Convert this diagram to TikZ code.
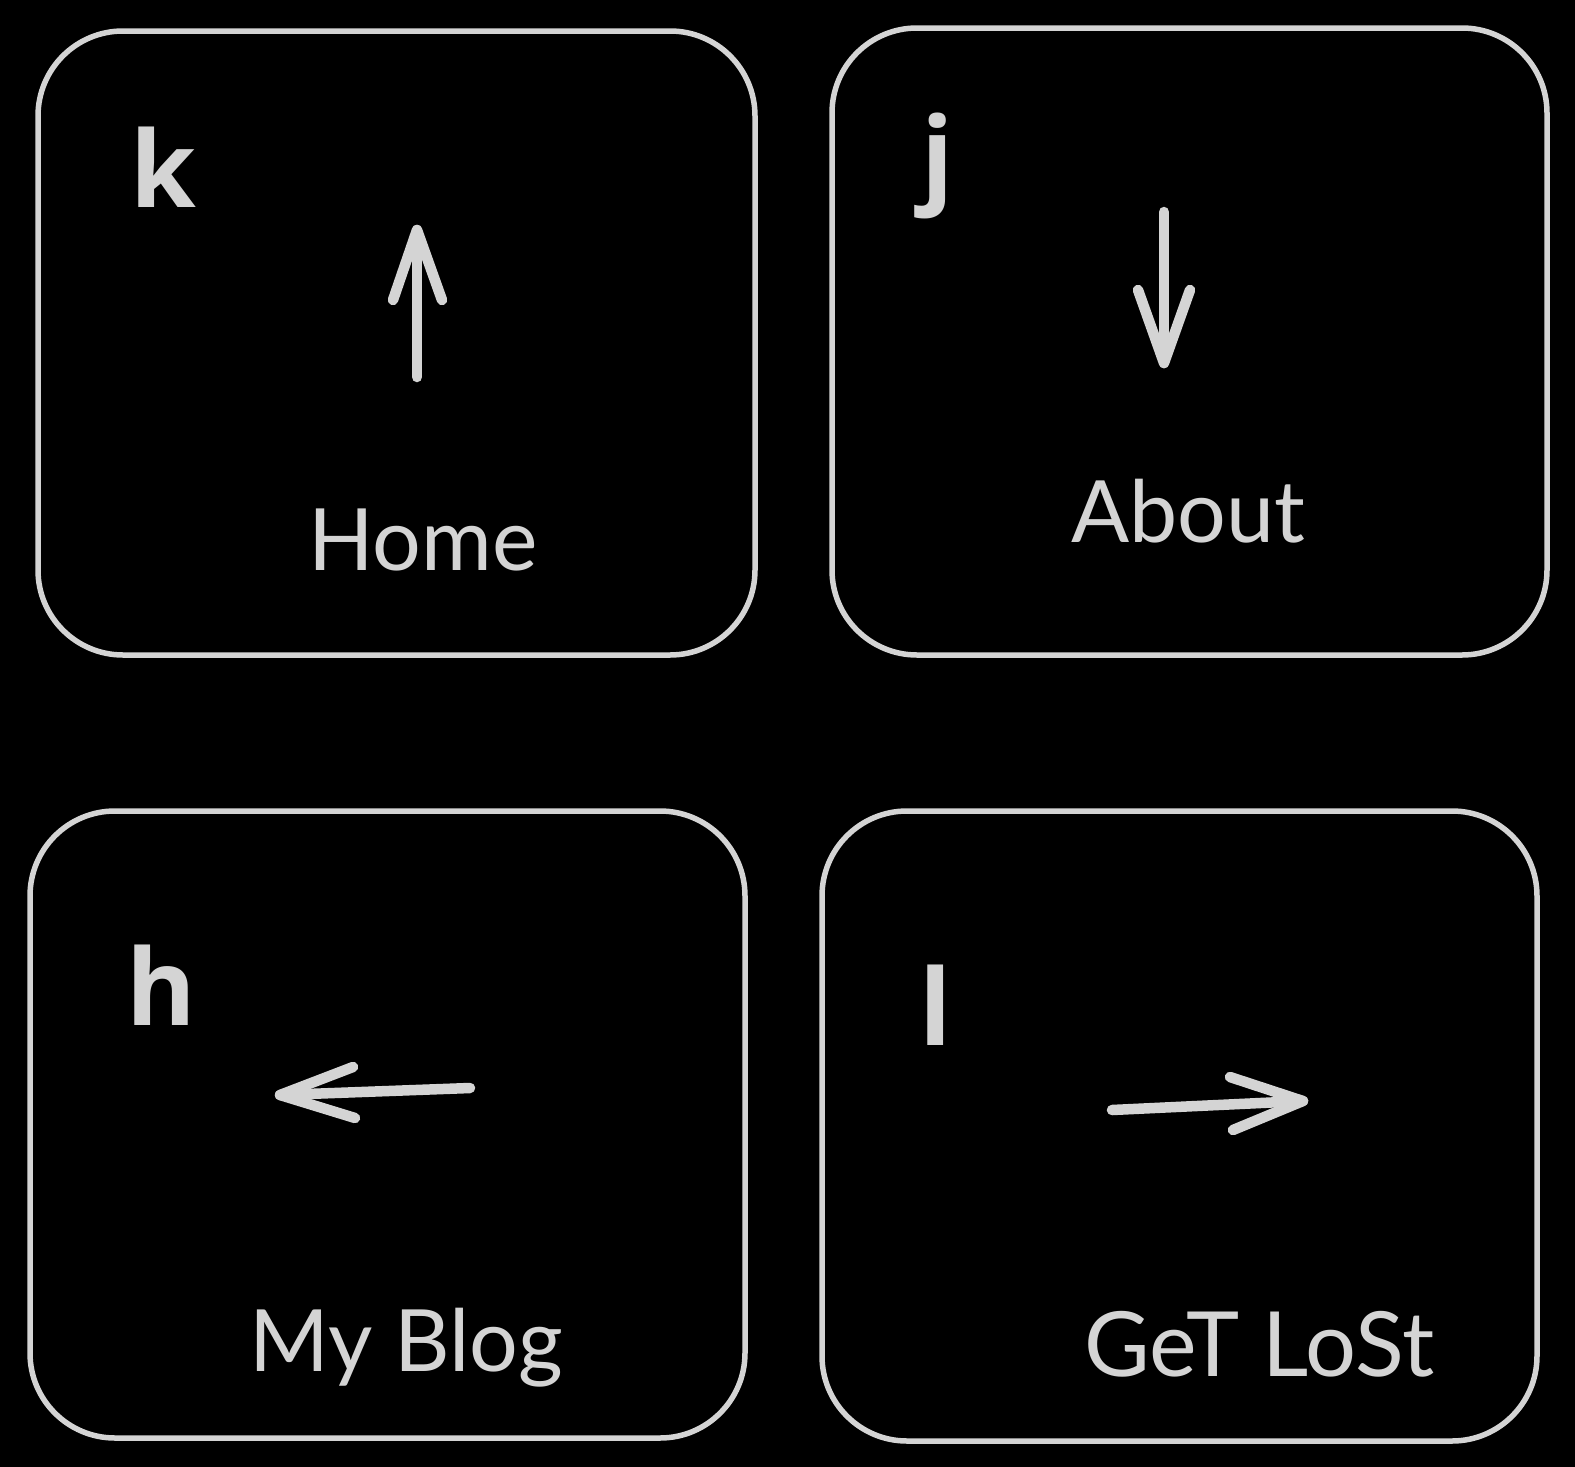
\documentclass[tikz,border=0pt]{standalone}
\usepackage{fontspec}
\setmainfont{Lato}
\newfontfamily\keyfont{Open Sans}
\definecolor{ink}{HTML}{D4D4D4}
\begin{document}
\begin{tikzpicture}[x=1pt,y=-1pt,
  keybox/.style={draw=ink,line width=5.5pt,rounded corners=85pt},
  keyletter/.style={anchor=base west,inner sep=0pt,text=ink,font=\keyfont\bfseries\fontsize{106}{106}\selectfont},
  keylabel/.style={anchor=base west,inner sep=0pt,text=ink,font=\fontsize{86}{86}\selectfont},
  shaft/.style={draw=ink,line width=10.5pt,line cap=round,line join=round}]
\useasboundingbox[fill=black] (0,0) rectangle (1575,1467);
% boxes
\draw[keybox] (38,31) rectangle (755,655);
\draw[keybox] (832,28) rectangle (1547,655);
\draw[keybox] (30,811) rectangle (745,1438);
\draw[keybox] (822,811) rectangle (1537,1441);
% letters
\node[keyletter] (k) at (130,207) {k};
\node[keyletter] (j) at (921,193) {j};
\node[keyletter] (h) at (126,1025) {h};
\node[keyletter] (l) at (919,1045) {l};
% labels
\node[keylabel] (home) at (308,570) {Home};
\node[keylabel] (about) at (1071,542) {About};
\node[keylabel] (blog) at (249,1371) {My Blog};
\node[keylabel,font=\fontsize{90}{90}\selectfont] (lost) at (1084,1376) {GeT LoSt};
% up arrow
\coordinate (ut) at (417,377); \coordinate (uh) at (417,230);
\coordinate (uw1) at (393,300); \coordinate (uw2) at (442,300);
\draw[shaft] (ut) -- (uh);
\draw[shaft] (uw1) -- (uh) -- (uw2);
% down arrow
\coordinate (dt) at (1164,212); \coordinate (dh) at (1164,363);
\coordinate (dw1) at (1138,290); \coordinate (dw2) at (1190,290);
\draw[shaft] (dt) -- (dh);
\draw[shaft] (dw1) -- (dh) -- (dw2);
% left arrow
\coordinate (lt) at (470,1088); \coordinate (lh) at (280,1095);
\coordinate (lw1) at (353,1067); \coordinate (lw2) at (355,1118);
\draw[shaft] (lt) -- (lh);
\draw[shaft] (lw1) -- (lh) -- (lw2);
% right arrow
\coordinate (rt) at (1112,1110); \coordinate (rh) at (1303,1101);
\coordinate (rw1) at (1230,1077); \coordinate (rw2) at (1233,1130);
\draw[shaft] (rt) -- (rh);
\draw[shaft] (rw1) -- (rh) -- (rw2);
\end{tikzpicture}
\end{document}
